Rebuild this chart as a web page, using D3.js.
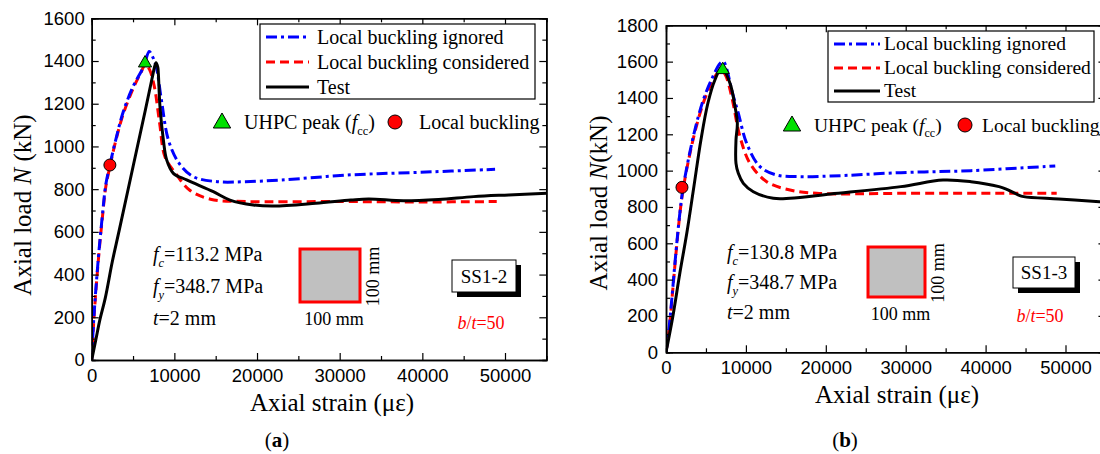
<!DOCTYPE html>
<html>
<head>
<meta charset="utf-8">
<script src="https://cdn.jsdelivr.net/npm/d3@7"></script>
<style>
body { margin: 0; background: #fff; }
</style>
</head>
<body>
<script>
// ---- data (strain in micro-strain, load in kN) ----
const strainTicks = [0, 10000, 20000, 30000, 40000, 50000];
const strainMinor = [5000, 15000, 25000, 35000, 45000, 55000];
const loadTicksA = [0, 200, 400, 600, 800, 1000, 1200, 1400, 1600];
const loadTicksB = [0, 200, 400, 600, 800, 1000, 1200, 1400, 1600, 1800];

// SS1-2
const ignoredA = [[0,0],[200,160],[500,330],[900,520],[1300,680],[1700,820],[2200,913],[2900,1030],[3800,1160],[5000,1280],[6300,1375],[6950,1445],[7300,1425],[7800,1374],[8430,1218],[9280,1030],[10560,922],[12250,859],[15200,835],[18600,835],[22900,843],[31400,867],[39800,879],[48800,893]];
const consideredA = [[0,0],[200,150],[500,320],[900,510],[1300,670],[1700,810],[2200,905],[2900,1025],[3800,1150],[5000,1270],[6000,1350],[6500,1385],[7000,1360],[7580,1280],[8220,1109],[8860,952],[10130,875],[11830,796],[14370,753],[18600,742],[30000,742],[40000,740],[49000,742]];
const testA = [[0,0],[500,95],[1000,190],[1640,290],[2490,460],[3340,609],[5000,905],[6500,1172],[7300,1318],[7600,1372],[7780,1392],[8000,1370],[8060,1343],[8260,1186],[8670,1030],[9070,937],[9880,874],[11490,843],[14710,788],[16730,749],[19550,726],[22020,721],[27110,734],[31360,749],[33500,754],[37730,746],[41970,752],[46210,765],[50460,773],[55130,781]];
const peakA = [6450, 1390];
const bucklingA = [2200, 913];

// SS1-3
const ignoredB = [[0,0],[400,140],[800,330],[1200,530],[1730,765],[2170,912],[3050,1114],[3930,1279],[4810,1407],[5680,1499],[6780,1591],[7200,1600],[7600,1560],[8220,1444],[9050,1316],[10100,1150],[11760,1022],[13850,976],[16770,967],[20610,970],[29400,989],[38170,1000],[48720,1026]];
const consideredB = [[0,0],[400,130],[800,320],[1200,520],[1730,760],[2170,905],[3050,1105],[3930,1265],[4810,1390],[5680,1480],[6500,1540],[7000,1550],[7500,1520],[8220,1407],[9260,1187],[10510,1040],[12600,939],[15520,893],[18860,875],[30000,875],[48900,875]];
const testB = [[0,0],[850,196],[1730,435],[2600,655],[3490,912],[4370,1169],[5240,1371],[6120,1499],[6970,1566],[8010,1481],[8640,1352],[8930,1261],[8760,1169],[8760,1040],[9050,985],[9680,930],[10930,884],[13430,848],[15520,848],[20610,871],[29400,912],[34670,948],[38170,939],[41680,912],[42500,900],[44000,868],[44770,857],[49160,844],[54250,829],[55500,826]];
const peakB = [7100, 1555];
const bucklingB = [2000, 908];

const legendLabels = ['Local buckling ignored', 'Local buckling considered', 'Test'];

const serif = "'Liberation Serif', 'Times New Roman', serif";
const sans = "'Liberation Sans', Arial, sans-serif";

const svg = d3.select('body').append('svg')
    .attr('width', 1100)
    .attr('height', 454);

function subText(sel, x, y, parts, size) {
    // parts: [text, italic, sub]
    const t = sel.append('text').attr('x', x).attr('y', y)
        .attr('font-family', serif).attr('font-size', size);
    let down = false;
    parts.forEach(function(p) {
        const ts = t.append('tspan').text(p[0]);
        if (p[1]) ts.attr('font-style', 'italic');
        if (p[2] && !down) { ts.attr('dy', size * 0.3).attr('font-size', size * 0.62); down = true; }
        else if (!p[2] && down) { ts.attr('dy', -size * 0.3); down = false; }
        else if (p[2]) ts.attr('font-size', size * 0.62);
    });
    return t;
}

function drawPanel(cfg) {
    const g = svg.append('g');
    const x = d3.scaleLinear().domain([0, 55000]).range([cfg.left, cfg.left + cfg.px10k * 5.5]);
    const y = d3.scaleLinear().domain([0, cfg.yMax]).range([cfg.bottom, cfg.top]);
    const right = x(55000);
    const fmt = d3.format('d');

    g.append('clipPath').attr('id', 'clip-' + cfg.id)
        .append('rect')
        .attr('x', cfg.left).attr('y', cfg.top)
        .attr('width', right - cfg.left).attr('height', cfg.bottom - cfg.top);

    const line = d3.line()
        .x(function(d) { return x(d[0]); })
        .y(function(d) { return y(d[1]); })
        .curve(d3.curveCatmullRom.alpha(0.5));

    const series = [
        {data: cfg.considered, color: '#ff0000', dash: '9,5'},
        {data: cfg.ignored, color: '#0000ff', dash: '11,4,3,4'},
        {data: cfg.test, color: '#000000', dash: null}
    ];
    const curves = g.append('g').attr('clip-path', 'url(#clip-' + cfg.id + ')');
    series.forEach(function(s) {
        curves.append('path')
            .datum(s.data)
            .attr('d', line)
            .attr('fill', 'none')
            .attr('stroke', s.color)
            .attr('stroke-width', 3)
            .attr('stroke-dasharray', s.dash);
    });

    // markers
    const tri = d3.symbol().type(d3.symbolTriangle).size(75);
    g.append('path').attr('d', tri)
        .attr('transform', 'translate(' + x(cfg.peak[0]) + ',' + y(cfg.peak[1]) + ')')
        .attr('fill', '#00e000').attr('stroke', '#000').attr('stroke-width', 1);
    g.append('circle')
        .attr('cx', x(cfg.buckling[0])).attr('cy', y(cfg.buckling[1])).attr('r', 6)
        .attr('fill', '#ff0000').attr('stroke', '#000').attr('stroke-width', 1);

    // axes
    function styleAxis(a, labels) {
        a.select('.domain').attr('stroke-width', 1.5);
        a.selectAll('.tick line').attr('stroke-width', 1.2);
        a.selectAll('.tick text').attr('font-family', sans).attr('font-size', 18.5).attr('fill', '#000');
        if (!labels) a.selectAll('.tick text').remove();
    }
    styleAxis(g.append('g').attr('transform', 'translate(0,' + cfg.bottom + ')')
        .call(d3.axisBottom(x).tickValues(strainTicks).tickFormat(fmt).tickSizeInner(-7).tickSizeOuter(0).tickPadding(cfg.xPad)), true);
    styleAxis(g.append('g').attr('transform', 'translate(0,' + cfg.bottom + ')')
        .call(d3.axisBottom(x).tickValues(strainMinor).tickSize(-4).tickFormat('')), false);
    styleAxis(g.append('g').attr('transform', 'translate(0,' + cfg.top + ')')
        .call(d3.axisTop(x).tickValues(strainTicks).tickSizeInner(-7).tickSizeOuter(0).tickFormat('')), false);
    styleAxis(g.append('g').attr('transform', 'translate(0,' + cfg.top + ')')
        .call(d3.axisTop(x).tickValues(strainMinor).tickSize(-4).tickFormat('')), false);

    const yMinor = cfg.yTicks.slice(0, -1).map(function(v) { return v + 100; });
    styleAxis(g.append('g').attr('transform', 'translate(' + cfg.left + ',0)')
        .call(d3.axisLeft(y).tickValues(cfg.yTicks).tickFormat(fmt).tickSizeInner(-7).tickSizeOuter(0).tickPadding(cfg.yPad)), true);
    styleAxis(g.append('g').attr('transform', 'translate(' + cfg.left + ',0)')
        .call(d3.axisLeft(y).tickValues(yMinor).tickSize(-4).tickFormat('')), false);
    styleAxis(g.append('g').attr('transform', 'translate(' + right + ',0)')
        .call(d3.axisRight(y).tickValues(cfg.yTicks).tickSizeInner(-7).tickSizeOuter(0).tickFormat('')), false);
    styleAxis(g.append('g').attr('transform', 'translate(' + right + ',0)')
        .call(d3.axisRight(y).tickValues(yMinor).tickSize(-4).tickFormat('')), false);

    // axis titles
    g.append('text')
        .attr('x', cfg.xTitle[0]).attr('y', cfg.xTitle[1])
        .attr('text-anchor', 'middle')
        .attr('font-family', serif).attr('font-size', 25)
        .text('Axial strain (με)');
    const yt = g.append('text')
        .attr('transform', 'translate(' + cfg.yTitle[0] + ',' + cfg.yTitle[1] + ') rotate(-90)')
        .attr('text-anchor', 'middle')
        .attr('font-family', serif).attr('font-size', 25);
    yt.append('tspan').text('Axial load ');
    yt.append('tspan').attr('font-style', 'italic').text('N');
    yt.append('tspan').text(cfg.yTitleTail);

    // caption
    const cap = g.append('text')
        .attr('x', cfg.caption[0]).attr('y', cfg.caption[1])
        .attr('text-anchor', 'middle')
        .attr('font-family', serif).attr('font-size', 21);
    cap.append('tspan').text('(');
    cap.append('tspan').attr('font-weight', 'bold').text(cfg.captionLetter);
    cap.append('tspan').text(')');

    // legend box
    const L = cfg.legend;
    g.append('rect')
        .attr('x', L.x).attr('y', L.y).attr('width', L.w).attr('height', L.h)
        .attr('fill', '#fff').attr('stroke', '#000').attr('stroke-width', 1.2);
    const legendStyle = [
        {color: '#0000ff', dash: '11,4,3,4'},
        {color: '#ff0000', dash: '9,5'},
        {color: '#000000', dash: null}
    ];
    legendLabels.forEach(function(lab, i) {
        const ly = L.rows[i];
        g.append('line')
            .attr('x1', L.lineX[0]).attr('x2', L.lineX[1])
            .attr('y1', ly).attr('y2', ly)
            .attr('stroke', legendStyle[i].color).attr('stroke-width', 3)
            .attr('stroke-dasharray', legendStyle[i].dash);
        g.append('text')
            .attr('x', L.textX).attr('y', ly).attr('dy', '0.33em')
            .attr('font-family', serif).attr('font-size', L.size)
            .text(lab);
    });

    // marker legend
    const M = cfg.markLegend;
    g.append('path').attr('d', d3.symbol().type(d3.symbolTriangle).size(130))
        .attr('transform', 'translate(' + M.tri + ',' + (M.y + 1) + ')')
        .attr('fill', '#00e000').attr('stroke', '#000').attr('stroke-width', 1);
    subText(g, M.triText, M.y + 6.5, [['UHPC peak (', false, false], ['f', true, false], ['cc', false, true], [')', false, false]], L.size);
    g.append('circle')
        .attr('cx', M.circ).attr('cy', M.y).attr('r', 7)
        .attr('fill', '#ff0000').attr('stroke', '#000').attr('stroke-width', 1);
    g.append('text')
        .attr('x', M.circText).attr('y', M.y + 6.5)
        .attr('font-family', serif).attr('font-size', L.size)
        .text('Local buckling');

    // material annotations
    const A = cfg.notes;
    subText(g, A.x, A.y[0], [['f', true, false], ['c', true, true], ['=' + cfg.fc + ' MPa', false, false]], 20);
    subText(g, A.x, A.y[1], [['f', true, false], ['y', true, true], ['=348.7 MPa', false, false]], 20);
    subText(g, A.x, A.y[2], [['t', true, false], ['=2 mm', false, false]], 20);

    // section sketch
    const S = cfg.section;
    g.append('rect')
        .attr('x', S.x).attr('y', S.y).attr('width', S.w).attr('height', S.h)
        .attr('fill', '#c0c0c0').attr('stroke', '#ff0000').attr('stroke-width', 3);
    g.append('text')
        .attr('x', S.x + S.w / 2 + 4).attr('y', S.y + S.h + 23)
        .attr('text-anchor', 'middle')
        .attr('font-family', serif).attr('font-size', 18)
        .text('100 mm');
    g.append('text')
        .attr('transform', 'translate(' + (S.x + S.w + 13) + ',' + (S.y + S.h / 2 + 1) + ') rotate(-90)')
        .attr('text-anchor', 'middle').attr('dy', '0.35em')
        .attr('font-family', serif).attr('font-size', 18)
        .text('100 mm');

    // specimen tag with shadow
    const B = cfg.tag;
    g.append('rect')
        .attr('x', B.x + 5).attr('y', B.y + 5).attr('width', B.w).attr('height', B.h)
        .attr('fill', '#000');
    g.append('rect')
        .attr('x', B.x).attr('y', B.y).attr('width', B.w).attr('height', B.h)
        .attr('fill', '#fff').attr('stroke', '#000').attr('stroke-width', 1);
    g.append('text')
        .attr('x', B.x + B.w / 2).attr('y', B.y + B.h / 2).attr('dy', '0.35em')
        .attr('text-anchor', 'middle')
        .attr('font-family', serif).attr('font-size', 19)
        .text(cfg.name);

    const bt = g.append('text')
        .attr('x', cfg.bt[0]).attr('y', cfg.bt[1])
        .attr('text-anchor', 'middle')
        .attr('font-family', serif).attr('font-size', 18).attr('fill', '#ff0000');
    bt.append('tspan').attr('font-style', 'italic').text('b');
    bt.append('tspan').text('/');
    bt.append('tspan').attr('font-style', 'italic').text('t');
    bt.append('tspan').text('=50');
}

drawPanel({
    id: 'a', name: 'SS1-2', fc: '113.2',
    left: 91.7, top: 18.3, bottom: 360, px10k: 82.66, yMax: 1600, yTicks: loadTicksA,
    xPad: 9, yPad: 7,
    ignored: ignoredA, considered: consideredA, test: testA, peak: peakA, buckling: bucklingA,
    xTitle: [332, 411], yTitle: [31, 205], yTitleTail: ' (kN)',
    caption: [277, 447], captionLetter: 'a',
    legend: {x: 260, y: 24, w: 275, h: 75, rows: [37, 62, 87], lineX: [266, 309], textX: 317, size: 20},
    markLegend: {y: 122, tri: 222, triText: 244, circ: 395, circText: 419},
    notes: {x: 153, y: [261, 293, 325]},
    section: {x: 300, y: 249, w: 60, h: 53},
    tag: {x: 452, y: 260, w: 64, h: 32},
    bt: [481, 329]
});

drawPanel({
    id: 'b', name: 'SS1-3', fc: '130.8',
    left: 666, top: 25.3, bottom: 352.3, px10k: 79.9, yMax: 1800, yTicks: loadTicksB,
    xPad: 9, yPad: 8,
    ignored: ignoredB, considered: consideredB, test: testB, peak: peakB, buckling: bucklingB,
    xTitle: [897, 403], yTitle: [607, 203], yTitleTail: '(kN)',
    caption: [845, 447], captionLetter: 'b',
    legend: {x: 828, y: 31, w: 266, h: 71, rows: [44, 68, 91], lineX: [834, 880], textX: 884, size: 19.5},
    markLegend: {y: 125, tri: 792, triText: 814, circ: 965, circText: 982},
    notes: {x: 727, y: [259, 289, 319]},
    section: {x: 868, y: 247, w: 57, h: 50},
    tag: {x: 1013, y: 257, w: 62, h: 31},
    bt: [1040, 322]
});
</script>
</body>
</html>
